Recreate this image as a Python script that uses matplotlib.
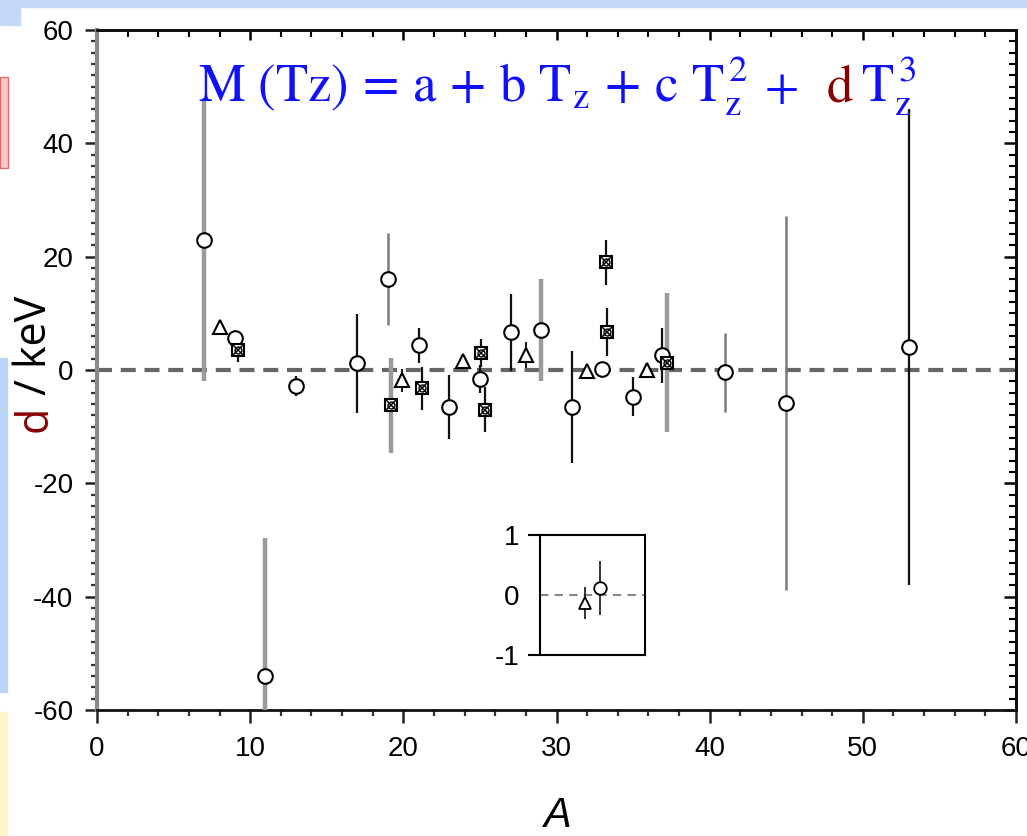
import numpy as np
import matplotlib.pyplot as plt
from matplotlib.patches import Rectangle
from matplotlib.ticker import MultipleLocator

plt.rcParams['font.family'] = ['Liberation Sans', 'DejaVu Sans']
plt.rcParams['mathtext.fontset'] = 'stix'
plt.rcParams['axes.unicode_minus'] = False

# open circles, thick grey error bars
circ_grey_A = [7, 11, 29]
circ_grey_d = [23, -54, 7]
circ_grey_err = [25, 24.4, 9]

# open circles, thin grey error bars
circ_thin_A = [19, 41, 45]
circ_thin_d = [16, -0.4, -5.8]
circ_thin_err = [8.1, 7, 33]

# open circles, black error bars
circ_blk_A = [9, 13, 17, 21, 23, 25, 27, 31, 33, 35, 36.9, 53]
circ_blk_d = [5.6, -2.8, 1.2, 4.4, -6.5, -1.6, 6.7, -6.5, 0.12, -4.7, 2.6, 4.0]
circ_blk_err = [1.0, 1.8, 8.7, 3.1, 5.6, 2.5, 6.8, 9.9, 0.45, 3.5, 4.9, 42]

# triangles
tri_A = [8, 19.9, 23.9, 28, 32, 35.9]
tri_d = [7.6, -1.8, 1.6, 2.6, -0.13, 0.0]
tri_err = [0.6, 2.0, 0.6, 2.3, 0.27, 0.6]

# crossed squares, black error bars
sq_A = [9.2, 21.2, 25.1, 25.3, 33.2, 33.3]
sq_d = [3.5, -3.2, 3.0, -7.0, 19, 6.7]
sq_err = [2, 3.8, 2.5, 4, 4, 4.3]

# crossed squares, thick grey error bars
sq_grey_A = [19.2, 37.2]
sq_grey_d = [-6.2, 1.3]
sq_grey_err = [8.4, 12.3]

# inset: the two points near A = 32-33
inset_tri_A, inset_tri_d, inset_tri_err = [32], [-0.13], [0.27]
inset_circ_A, inset_circ_d, inset_circ_err = [33], [0.12], [0.45]

W, H = 1027, 836
fig = plt.figure(figsize=(W / 100, H / 100), dpi=100)
fig.patch.set_facecolor('white')

# bits of the slide around the chart
lb = '#c5d9f7'
for (x0, y0, w, h, fc, ec) in [(0, 0, W, 7, lb, lb), (0, 0, 20, 25, lb, lb),
                               (0, 77, 8, 91, '#f9c9c9', '#e07070'),
                               (0, 358, 7, 334, '#bcd4f5', '#bcd4f5'),
                               (0, 712, 7, 124, '#fdf3cc', '#fdf3cc')]:
    fig.add_artist(Rectangle((x0 / W, 1 - (y0 + h) / H), w / W, h / H,
                             transform=fig.transFigure, fc=fc, ec=ec, lw=1))

ax = fig.add_axes([97 / W, 1 - 710 / H, (1016 - 97) / W, (710 - 30) / H])
ax.set_xlim(0, 60)
ax.set_ylim(-60, 60)

ax.axhline(0, color='#666666', lw=3, ls=(0, (3.6, 2.1)), zorder=1)


def draw(a, d, err, marker, ms, ecolor, elw, axes=ax, mew=1.5):
    axes.errorbar(a, d, yerr=err, fmt=marker, ms=ms, mfc='white', mec='black',
                  mew=mew, ecolor=ecolor, elinewidth=elw, capsize=0, zorder=3)


draw(circ_grey_A, circ_grey_d, circ_grey_err, 'o', 10.5, '#9a9a9a', 3.2)
draw(circ_thin_A, circ_thin_d, circ_thin_err, 'o', 10.5, '#7a7a7a', 1.8)
draw(circ_blk_A, circ_blk_d, circ_blk_err, 'o', 10.5, '#111111', 1.6)
draw(tri_A, tri_d, tri_err, '^', 10.5, '#111111', 1.4)
draw(sq_A, sq_d, sq_err, 's', 9, '#111111', 1.6)
draw(sq_grey_A, sq_grey_d, sq_grey_err, 's', 9, '#9a9a9a', 3.2)
for a, d in [(sq_A, sq_d), (sq_grey_A, sq_grey_d)]:
    ax.plot(a, d, 'x', ms=6.5, color='black', mew=1.1, zorder=4)
    ax.plot(a, d, 'o', ms=5, mfc='none', mec='black', mew=1, zorder=4)

ax.xaxis.set_major_locator(MultipleLocator(10))
ax.xaxis.set_minor_locator(MultipleLocator(2))
ax.yaxis.set_major_locator(MultipleLocator(20))
ax.yaxis.set_minor_locator(MultipleLocator(2))
ax.tick_params(which='major', direction='out', length=9, width=1.8,
               labelsize=20, pad=8, color='#222222')
ax.tick_params(which='minor', direction='out', length=4.5, width=1.6,
               color='#333333')
ax.tick_params(axis='x', which='major', pad=10)

for s in ['top', 'bottom', 'right']:
    ax.spines[s].set_linewidth(2)
    ax.spines[s].set_color('#111111')
ax.spines['left'].set_linewidth(3)
ax.spines['left'].set_color('#8a8a8a')

top = ax.secondary_xaxis('top')
top.xaxis.set_major_locator(MultipleLocator(10))
top.xaxis.set_minor_locator(MultipleLocator(2))
top.tick_params(which='major', direction='in', length=7, width=1.8, labeltop=False)
top.tick_params(which='minor', direction='in', length=5, width=1.5)
right = ax.secondary_yaxis('right')
right.yaxis.set_major_locator(MultipleLocator(20))
right.yaxis.set_minor_locator(MultipleLocator(2))
right.tick_params(which='major', direction='in', length=9, width=1.8, labelright=False)
right.tick_params(which='minor', direction='in', length=5, width=1.5)
for sec in (top, right):
    for sp in sec.spines.values():
        sp.set_linewidth(2)

ax.set_xlabel('A', style='italic', fontsize=30, labelpad=24)

# equation
blue = '#1010ff'
eq_size = 38
base = 1 - 102 / H
fig.text(198 / W, base,
         r'$\mathrm{M\ (Tz)\,=\,a\,+\,b\ T_z\,+\,c\ T_z^{\,2}}$',
         color=blue, fontsize=eq_size, va='baseline', ha='left')
fig.text(764 / W, base, r'$+$', color=blue, fontsize=eq_size - 2,
         va='baseline', ha='left')
fig.text(826 / W, base, r'$\mathrm{d}$', color='#8b0000', fontsize=eq_size,
         va='baseline', ha='left')
fig.text(861 / W, base, r'$\mathrm{T_z^{\,3}}$', color=blue, fontsize=eq_size,
         va='baseline', ha='left')

# y label
dlab = fig.text(35 / W, 1 - 432 / H, 'd', color='#8b0000', fontsize=31,
                family='Open Sans', rotation=90, ha='center', va='bottom')
ax.annotate(' / keV', xy=(0.5, 1), xycoords=dlab, color='black', fontsize=31,
            family='Open Sans', rotation=90, ha='center', va='bottom',
            annotation_clip=False)

# inset
axi = fig.add_axes([540 / W, 1 - 655 / H, 105 / W, 120 / H])
axi.set_xlim(29, 36)
axi.set_ylim(-1, 1)
axi.axhline(0, color='#888888', lw=1.5, ls=(0, (4, 3)), zorder=1)
draw(inset_tri_A, inset_tri_d, inset_tri_err, '^', 9, '#111111', 1.2, axes=axi, mew=1.3)
draw(inset_circ_A, inset_circ_d, inset_circ_err, 'o', 9, '#111111', 1.2, axes=axi, mew=1.3)
axi.set_xticks([])
axi.set_yticks([-1, 0, 1])
axi.tick_params(axis='y', length=9, width=1.5, labelsize=20, pad=6)
axi.yaxis.get_major_ticks()[1].tick1line.set_visible(False)
for sp in axi.spines.values():
    sp.set_linewidth(1.5)

fig.savefig('out.png', dpi=100)
